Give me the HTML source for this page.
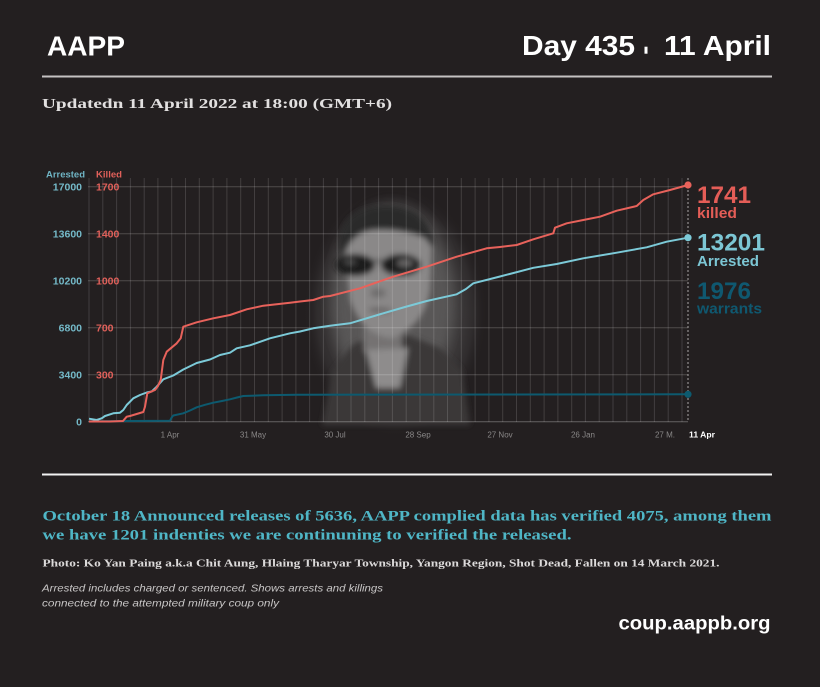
<!DOCTYPE html>
<html><head><meta charset="utf-8"><style>
html,body{margin:0;padding:0;background:#231f20;}
svg{display:block;}
</style></head><body>
<svg width="820" height="687" viewBox="0 0 820 687" xmlns="http://www.w3.org/2000/svg">
<defs>
  <radialGradient id="glow" cx="0.5" cy="0.5" r="0.5">
    <stop offset="0" stop-color="#6a6868" stop-opacity="1"/>
    <stop offset="0.55" stop-color="#525050" stop-opacity="0.95"/>
    <stop offset="0.85" stop-color="#383536" stop-opacity="0.6"/>
    <stop offset="1" stop-color="#231f20" stop-opacity="0"/>
  </radialGradient>
  <filter id="b1" x="-20%" y="-20%" width="140%" height="140%"><feGaussianBlur stdDeviation="3"/></filter>
  <filter id="b2" x="-30%" y="-30%" width="160%" height="160%"><feGaussianBlur stdDeviation="6"/></filter>
</defs>
<rect width="820" height="687" fill="#231f20"/>

<!-- Header -->
<text x="47" y="55.5" font-family="Liberation Sans, sans-serif" font-weight="bold" font-size="28" fill="#ffffff" textLength="78" lengthAdjust="spacingAndGlyphs">AAPP</text>
<text x="522" y="55" font-family="Liberation Sans, sans-serif" font-weight="bold" font-size="28" fill="#ffffff" textLength="113" lengthAdjust="spacingAndGlyphs">Day 435</text>
<rect x="644.5" y="46.7" width="3" height="7" fill="#ffffff"/>
<text x="664" y="55" font-family="Liberation Sans, sans-serif" font-weight="bold" font-size="28" fill="#ffffff" textLength="107" lengthAdjust="spacingAndGlyphs">11 April</text>
<rect x="42" y="75.5" width="730" height="2" fill="#c4c2c2"/>
<text x="42" y="108" font-family="Liberation Serif, serif" font-weight="bold" font-size="14" fill="#e2e0e0" textLength="350" lengthAdjust="spacingAndGlyphs">Updatedn 11 April 2022 at 18:00 (GMT+6)</text>

<!-- Photo -->
<ellipse cx="395" cy="312" rx="92" ry="125" fill="url(#glow)"/>
<g filter="url(#b2)" opacity="0.85">
  <ellipse cx="392" cy="300" rx="60" ry="95" fill="#5a5858"/>
</g>
<g filter="url(#b1)">
  <!-- jacket -->
  <path d="M322 425 L332 372 L352 345 L372 336 L410 336 L440 348 L462 370 L470 425 Z" fill="#3a3838"/>
  <!-- neck -->
  <rect x="364" y="318" width="38" height="34" fill="#747272"/>
  <!-- shirt -->
  <path d="M366 350 L408 348 L400 388 L376 388 Z" fill="#8e8c8c"/>
  <!-- face -->
  <path d="M344 240 Q344 225 385 222 Q430 225 432 245 L430 290 Q425 325 392 338 Q362 335 350 300 Z" fill="#8a8888"/>
  <!-- hair -->
  <path d="M340 252 Q335 208 385 205 Q432 206 434 250 L425 238 Q400 228 372 230 Q350 234 344 256 Z" fill="#2c2a2a"/>
  <!-- glasses -->
  <ellipse cx="355" cy="265" rx="20" ry="11" fill="#1f1d1d"/>
  <ellipse cx="401" cy="265" rx="20" ry="11" fill="#1f1d1d"/>
  <rect x="372" y="259" width="12" height="3" fill="#555"/>
  <ellipse cx="405" cy="263" rx="8" ry="4" fill="#646262"/>
  <ellipse cx="350" cy="262" rx="6" ry="3" fill="#4a4848"/>
  <!-- nose/mouth shading -->
  <ellipse cx="378" cy="293" rx="8" ry="5" fill="#706e6e"/>
  <ellipse cx="380" cy="310" rx="12" ry="3" fill="#6a6868"/>
</g>

<!-- Grid -->
<g stroke="#ffffff" stroke-opacity="0.14" stroke-width="1" fill="none">
  <path d="M89 178V422M102.8 178V422M116.6 178V422M130.4 178V422M144.2 178V422M157.9 178V422M171.7 178V422M185.5 178V422M199.3 178V422M213.1 178V422M226.9 178V422M240.7 178V422M254.5 178V422M268.3 178V422M282.1 178V422M295.9 178V422M309.6 178V422M323.4 178V422M337.2 178V422M351 178V422M364.8 178V422M378.6 178V422M392.4 178V422M406.2 178V422M420 178V422M433.8 178V422M447.5 178V422M461.3 178V422M475.1 178V422M488.9 178V422M502.7 178V422M516.5 178V422M530.3 178V422M544.1 178V422M557.9 178V422M571.7 178V422M585.4 178V422M599.2 178V422M613 178V422M626.8 178V422M640.6 178V422M654.4 178V422M668.2 178V422M682 178V422"/>
</g>
<g stroke="#ffffff" stroke-opacity="0.2" stroke-width="1" fill="none">
  <path d="M88 186.7H688M88 233.7H688M88 280.7H688M88 327.7H688M88 374.7H688"/>
</g>
<path d="M88 421.7H688" stroke="#ffffff" stroke-opacity="0.3" stroke-width="1"/>
<path d="M688 178V422" stroke="#a8a6a6" stroke-width="1" stroke-dasharray="2,2"/>

<!-- Series -->
<polyline fill="none" stroke="#0d5a6f" stroke-width="2" stroke-linejoin="round" points="89,421.3 170,420.7 172,417 173.3,415.5 183.3,413.3 190,410.5 196.7,407.3 205,404.8 213.3,402.7 222,401 230,399.3 237,397.5 243.3,396 263.3,395.3 296.7,394.7 688,394.3"/>
<polyline fill="none" stroke="#7ccad8" stroke-width="2" stroke-linejoin="round" points="89,418.7 96.7,420 101.7,418.3 105,416 113.3,413.3 120,412.7 123.3,410 126.7,405 130,401.7 133.3,398.3 140,395 146.7,392.5 151.7,391.5 156.7,386.7 163.3,379.3 173.3,375.5 183.3,369.5 196.7,363 210,359.5 220,355 230,352.7 236.7,348.3 250,345.3 270,338.3 290,333.3 300,331.5 313.3,328.3 330,325.7 350,323.3 383.3,313.3 405,307 426.7,301 456.7,294.3 466,289 473.3,283.3 500,276.5 533.3,267.8 556.7,264 583.3,258.3 616.7,252.7 646.7,247.3 666.7,241.7 688,237.7"/>
<polyline fill="none" stroke="#e8625b" stroke-width="2" stroke-linejoin="round" points="89,421.5 110,421.5 123,421 126.7,416.7 130,416 143.3,412 145,406.7 147.3,393.3 155,390 158,386 160.7,380 163.3,360 166.7,351.7 176.7,343.3 180.7,338.3 183.3,326.7 196.7,322.3 213.3,318.3 230,315 246.7,309.3 263.3,305.7 290,302.7 300,301.5 313.3,300 323.3,296.7 330,296 360,288.3 375,283 393.3,276.7 426.7,266.7 456.7,256.7 486.7,248.3 500,247 516.7,245 533.3,239.3 553.3,233.3 555,227.7 566.7,223.3 583.3,220 600,216.7 616.7,210.7 636.7,206 643.3,200 653.3,194.3 670,190 688,185"/>
<circle cx="688" cy="185" r="3.6" fill="#e8625b"/>
<circle cx="688" cy="237.7" r="3.6" fill="#7ccad8"/>
<circle cx="688" cy="394.3" r="3.6" fill="#0d5a6f"/>

<!-- Axis labels -->
<g font-family="Liberation Sans, sans-serif" font-weight="bold">
  <text x="46" y="177.3" font-size="9.5" fill="#6fb4c4" textLength="39" lengthAdjust="spacingAndGlyphs">Arrested</text>
  <text x="96" y="177.3" font-size="9.5" fill="#e0605a" textLength="26" lengthAdjust="spacingAndGlyphs">Killed</text>
  <g font-size="10.5" fill="#74b9c8" text-anchor="end">
    <text x="82" y="190.5">17000</text>
    <text x="82" y="237.5">13600</text>
    <text x="82" y="284.5">10200</text>
    <text x="82" y="331.5">6800</text>
    <text x="82" y="378.5">3400</text>
    <text x="82" y="425.5">0</text>
  </g>
  <g font-size="10.5" fill="#e0605a">
    <text x="96" y="190.5">1700</text>
    <text x="96" y="237.5">1400</text>
    <text x="96" y="284.5">1000</text>
    <text x="96" y="331.5">700</text>
    <text x="96" y="378.5">300</text>
  </g>
</g>
<g font-family="Liberation Sans, sans-serif" font-size="8" fill="#8a8888" text-anchor="middle">
  <text x="170" y="437.3">1 Apr</text>
  <text x="253" y="437.3">31 May</text>
  <text x="335" y="437.3">30 Jul</text>
  <text x="418" y="437.3">28 Sep</text>
  <text x="500" y="437.3">27 Nov</text>
  <text x="583" y="437.3">26 Jan</text>
  <text x="665" y="437.3">27 M.</text>
</g>
<text x="689" y="437.3" font-family="Liberation Sans, sans-serif" font-weight="bold" font-size="8.5" fill="#ffffff" textLength="26" lengthAdjust="spacingAndGlyphs">11 Apr</text>

<!-- Right labels -->
<g font-family="Liberation Sans, sans-serif" font-weight="bold">
  <text x="697" y="203" font-size="24" fill="#e45d57" textLength="54" lengthAdjust="spacingAndGlyphs">1741</text>
  <text x="697" y="218" font-size="15" fill="#e45d57" textLength="40" lengthAdjust="spacingAndGlyphs">killed</text>
  <text x="697" y="250.7" font-size="24" fill="#7cc6d4" textLength="68" lengthAdjust="spacingAndGlyphs">13201</text>
  <text x="697" y="266" font-size="15" fill="#7cc6d4" textLength="62" lengthAdjust="spacingAndGlyphs">Arrested</text>
  <text x="697" y="299" font-size="24" fill="#0f5870" textLength="54" lengthAdjust="spacingAndGlyphs">1976</text>
  <text x="697" y="313.5" font-size="15" fill="#0f5870" textLength="65" lengthAdjust="spacingAndGlyphs">warrants</text>
</g>

<!-- Footer -->
<rect x="42" y="473.5" width="730" height="2" fill="#f2f2f2"/>
<g font-family="Liberation Serif, serif" font-weight="bold" fill="#4fb6c6" font-size="15">
  <text x="42.5" y="520.7" textLength="729" lengthAdjust="spacingAndGlyphs">October 18 Announced releases of 5636, AAPP complied data has verified 4075, among them</text>
  <text x="42.5" y="539.3" textLength="529" lengthAdjust="spacingAndGlyphs">we have 1201 indenties we are continuning to verified the released.</text>
</g>
<text x="42.5" y="566.7" font-family="Liberation Serif, serif" font-weight="bold" font-size="11" fill="#dcdada" textLength="677" lengthAdjust="spacingAndGlyphs">Photo: Ko Yan Paing a.k.a Chit Aung, Hlaing Tharyar Township, Yangon Region, Shot Dead, Fallen on 14 March 2021.</text>
<g font-family="Liberation Sans, sans-serif" font-style="italic" font-size="10.5" fill="#c8c6c6">
  <text x="42" y="591.7" textLength="341" lengthAdjust="spacingAndGlyphs">Arrested includes charged or sentenced. Shows arrests and killings</text>
  <text x="42" y="606.7" textLength="237" lengthAdjust="spacingAndGlyphs">connected to the attempted military coup only</text>
</g>
<text x="618.5" y="629.3" font-family="Liberation Sans, sans-serif" font-weight="bold" font-size="19.5" fill="#ffffff" textLength="152" lengthAdjust="spacingAndGlyphs">coup.aappb.org</text>
</svg>
</body></html>
